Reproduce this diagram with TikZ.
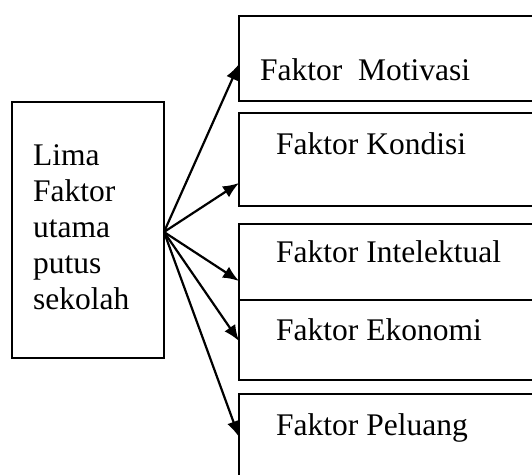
\documentclass[tikz,border=0pt]{standalone}
\usepackage{fontspec}
\setmainfont{Liberation Serif}
\usetikzlibrary{arrows.meta}
\begin{document}
\begin{tikzpicture}[x=1pt,y=-1pt,
  box/.style={draw=black,line width=2pt,inner sep=0pt,outer sep=0pt,anchor=north west},
  lbl/.style={inner sep=0pt,anchor=base west,font=\fontsize{31.5}{36}\selectfont},
  conn/.style={line width=2.2pt,-{Latex[length=16pt,width=13pt]}}]
\useasboundingbox (0,0) rectangle (532,474);
\clip (0,0) rectangle (532,474);
% left box
\node[box,minimum width=152pt,minimum height=256pt] (lbox) at (12,102) {};
\node[inner sep=0pt,anchor=north west,align=left,font=\fontsize{31.5}{36}\selectfont] (ltext) at (33,144.5) {Lima\\Faktor\\utama\\putus\\sekolah};
% right boxes
\node[box,minimum width=330pt,minimum height=85pt] (b1) at (239,16) {};
\node[box,minimum width=330pt,minimum height=93pt] (b2) at (239,113) {};
\node[box,minimum width=330pt,minimum height=76pt] (b3) at (239,224) {};
\node[box,minimum width=330pt,minimum height=80pt] (b4) at (239,300) {};
\node[box,minimum width=330pt,minimum height=110pt] (b5) at (239,394) {};
% labels
\node[lbl] (t1) at (260,80) {Faktor\ \ Motivasi};
\node[lbl] (t2) at (276,154) {Faktor Kondisi};
\node[lbl] (t3) at (276,262) {Faktor Intelektual};
\node[lbl] (t4) at (276,340) {Faktor Ekonomi};
\node[lbl] (t5) at (276,435) {Faktor Peluang};
% connectors
\coordinate (src) at (164,232);
\coordinate (e1) at (239,64);
\coordinate (e2) at (239,183);
\coordinate (e3) at (239,281);
\coordinate (e4) at (239,341);
\coordinate (e5) at (239,437);
\foreach \e in {e1,e2,e3,e4,e5} \draw[conn] (src) -- (\e);
\end{tikzpicture}
\end{document}
